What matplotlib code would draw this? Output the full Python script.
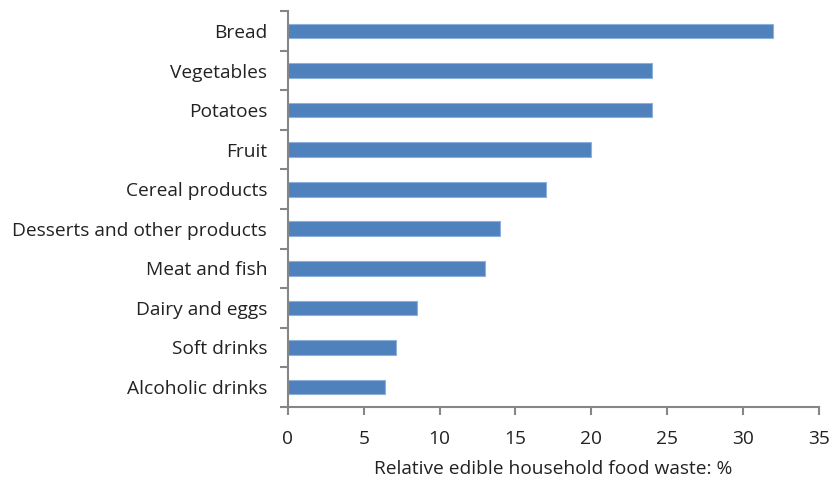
import matplotlib
matplotlib.use("Agg")
import matplotlib.pyplot as plt
import numpy as np

categories = ["Bread", "Vegetables", "Potatoes", "Fruit", "Cereal products",
              "Desserts and other products", "Meat and fish", "Dairy and eggs",
              "Soft drinks", "Alcoholic drinks"]
values = [32.0, 24.0, 24.0, 20.0, 17.0, 14.0, 13.0, 8.5, 7.1, 6.4]
xticks = [0, 5, 10, 15, 20, 25, 30, 35]
xlabel = "Relative edible household food waste: %"

plt.rcParams['font.family'] = ['Open Sans', 'DejaVu Sans']
fig = plt.figure(figsize=(8.33, 4.86), dpi=100)
ax = fig.add_axes([0.3457, 0.163, 0.983 - 0.3457, 0.977 - 0.163])

n = len(categories)
ypos = np.arange(n)[::-1]
ax.barh(ypos, values, height=0.37, color="#4F81BD", edgecolor="#8DB0DC", linewidth=0.8)

fs = 13.8
ax.set_ylim(-0.5, n - 0.5)
ax.set_xlim(0, 35)
ax.set_xticks(xticks)
ax.set_xticklabels([str(t) for t in xticks], fontsize=fs, color="#222222")
ax.set_yticks(ypos)
ax.set_yticklabels(categories, fontsize=fs, color="#222222")
ax.set_yticks(np.arange(-0.5, n, 1.0), minor=True)
ax.tick_params(axis='y', which='major', length=0, pad=15)
ax.tick_params(axis='y', which='minor', length=6, color="#868686", width=1.5, direction='out')
ax.tick_params(axis='x', which='major', length=6, color="#868686", width=1.5, direction='out', pad=11)

for s in ['top', 'right']:
    ax.spines[s].set_visible(False)
for s in ['left', 'bottom']:
    ax.spines[s].set_color("#868686")
    ax.spines[s].set_linewidth(1.5)

ax.set_xlabel(xlabel, fontsize=fs, color="#222222", labelpad=8)

fig.savefig("out.png", dpi=100)
